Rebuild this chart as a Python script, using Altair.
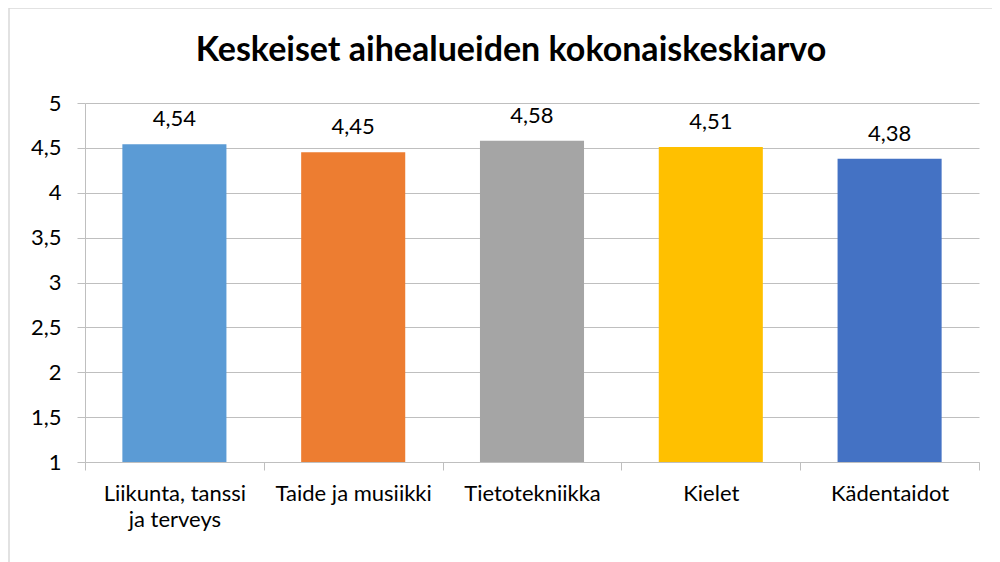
import altair as alt
import pandas as pd

categories = ["Liikunta, tanssi ja terveys", "Taide ja musiikki", "Tietotekniikka", "Kielet", "Kädentaidot"]
values = [4.54, 4.45, 4.58, 4.51, 4.38]
colors = ["#5B9BD5", "#ED7D31", "#A5A5A5", "#FFC000", "#4472C4"]
y_ticks = [1, 1.5, 2, 2.5, 3, 3.5, 4, 4.5, 5]

df = pd.DataFrame({"cat": categories, "val": values, "color": colors})

FONT = "Lato"
FS = 22
W, H = 894, 359

x_enc = alt.X("cat:N", sort=categories, title=None,
              scale=alt.Scale(paddingInner=0, paddingOuter=0),
              axis=alt.Axis(labelAngle=0, tickBand="extent", tickSize=8,
                            tickColor="#BFBFBF", domainColor="#BFBFBF",
                            labelFontSize=FS, labelFont=FONT, labelColor="#000000",
                            labelPadding=13, labelLineHeight=26, labelLimit=300,
                            labelExpr="datum.label == 'Liikunta, tanssi ja terveys' ? ['Liikunta, tanssi', 'ja terveys'] : datum.label",
                            grid=False))

y_enc = alt.Y("val:Q", title=None,
              scale=alt.Scale(domain=[1, 5], nice=False, zero=False),
              axis=alt.Axis(values=y_ticks, tickSize=8, tickColor="#BFBFBF",
                            domainColor="#BFBFBF", gridColor="#BFBFBF",
                            labelFontSize=FS, labelFont=FONT, labelColor="#000000",
                            labelPadding=16,
                            labelExpr="replace(toString(datum.value), '.', ',')"))

bars = alt.Chart(df).mark_bar(width=alt.RelativeBandSize(0.582)).encode(
    x=x_enc, y=y_enc, y2=alt.datum(1), color=alt.Color("color:N", scale=None)
)

labels = alt.Chart(df).transform_calculate(
    lab="replace(format(datum.val, '.2f'), '.', ',')"
).mark_text(baseline="alphabetic", dy=-18, fontSize=FS, font=FONT, color="#000000").encode(
    x=alt.X("cat:N", sort=categories), y="val:Q", text="lab:N"
)

border = alt.Chart(df).mark_rect(fill=None, stroke="#D9D9D9", strokeWidth=1.5).encode(
    x=alt.value(-76), x2=alt.value(W + 200), y=alt.value(-95), y2=alt.value(H + 200)
).transform_filter("datum.cat == 'Kielet'")

chart = alt.layer(border, bars, labels).properties(
    width=W, height=H,
    title=alt.TitleParams("Keskeiset aihealueiden kokonaiskeskiarvo", font=FONT,
                          fontSize=34, fontWeight="bold", color="#000000",
                          anchor="middle", dx=-21, baseline="alphabetic", offset=-88),
    autosize=alt.AutoSizeParams(type="none"),
    padding={"left": 77, "top": 95, "right": 13, "bottom": 100},
).configure_view(stroke=None)

chart.save("out.html", embed_options={"renderer": "svg", "actions": False})
